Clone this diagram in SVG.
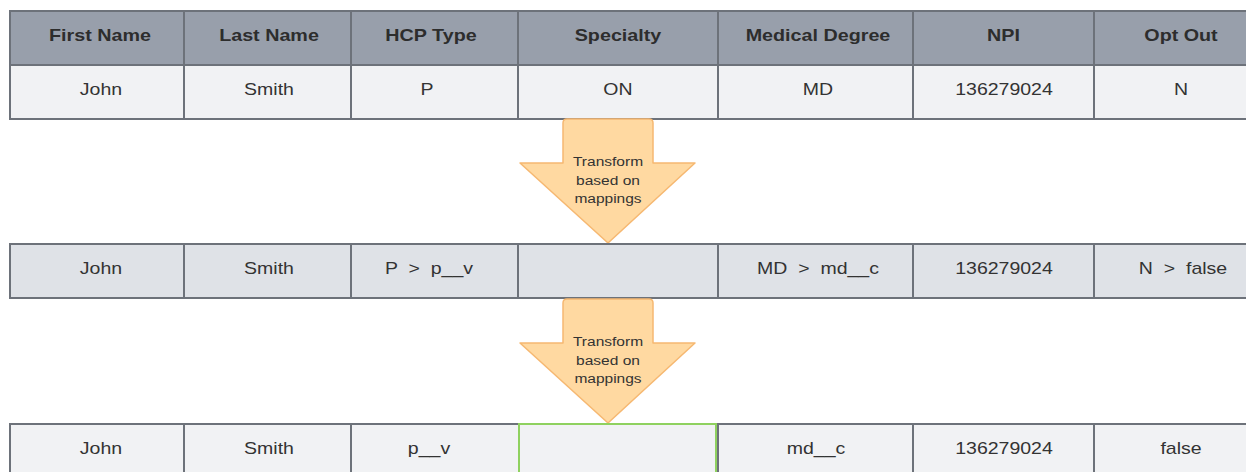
<svg xmlns="http://www.w3.org/2000/svg" width="1246" height="472" viewBox="0 0 1246 472">
<style>
.hd{fill:#989fab;stroke:#6d727a;stroke-width:2}
.r1{fill:#f1f2f4;stroke:#6d727a;stroke-width:2}
.r2{fill:#dfe2e7;stroke:#6d727a;stroke-width:2}
.ln{stroke:#6d727a;stroke-width:2}
.ht{font-family:"Liberation Sans",Arial,sans-serif;font-size:17px;font-weight:bold;fill:#2d2d2d;text-anchor:middle}
.bt{font-family:"Liberation Sans",Arial,sans-serif;font-size:16px;fill:#333;text-anchor:middle}
.ar{fill:#ffd9a1;stroke:#f6b871;stroke-width:1.5;stroke-linejoin:round}
.at{font-family:"Liberation Sans",Arial,sans-serif;font-size:13.5px;fill:#333;text-anchor:middle}
</style>
<g id="table1">
<rect class="hd" x="10" y="11" width="1262" height="54"/>
<rect class="r1" x="10" y="65" width="1262" height="54"/>
<g class="ln">
<line x1="184" y1="11" x2="184" y2="119"/><line x1="351" y1="11" x2="351" y2="119"/><line x1="518" y1="11" x2="518" y2="119"/><line x1="718" y1="11" x2="718" y2="119"/><line x1="913" y1="11" x2="913" y2="119"/><line x1="1094" y1="11" x2="1094" y2="119"/>
</g>
<text class="ht" transform="translate(100,41) scale(1.16,1)">First Name</text>
<text class="ht" transform="translate(269,41) scale(1.16,1)">Last Name</text>
<text class="ht" transform="translate(431,41) scale(1.16,1)">HCP Type</text>
<text class="ht" transform="translate(618,41) scale(1.16,1)">Specialty</text>
<text class="ht" transform="translate(818,41) scale(1.16,1)">Medical Degree</text>
<text class="ht" transform="translate(1003.5,41) scale(1.16,1)">NPI</text>
<text class="ht" transform="translate(1181,41) scale(1.16,1)">Opt Out</text>
<text class="bt" transform="translate(101,95) scale(1.22,1)">John</text>
<text class="bt" transform="translate(269,95) scale(1.22,1)">Smith</text>
<text class="bt" transform="translate(427,95) scale(1.22,1)">P</text>
<text class="bt" transform="translate(618,95) scale(1.22,1)">ON</text>
<text class="bt" transform="translate(818,95) scale(1.22,1)">MD</text>
<text class="bt" transform="translate(1004,95) scale(1.22,1)">136279024</text>
<text class="bt" transform="translate(1181,95) scale(1.22,1)">N</text>
</g>
<g id="arrow1">
<path class="ar" d="M567,119 L649,119 Q653,119 653,123 L653,163 L695,163 L608,243 L520,163 L563,163 L563,123 Q563,119 567,119 Z"/>
<text class="at" transform="translate(608,166) scale(1.15,1)">Transform</text>
<text class="at" transform="translate(608,185) scale(1.15,1)">based on</text>
<text class="at" transform="translate(608,203) scale(1.15,1)">mappings</text>
</g>
<g id="table2">
<rect class="r2" x="10" y="244" width="1262" height="54"/>
<g class="ln">
<line x1="184" y1="244" x2="184" y2="298"/><line x1="351" y1="244" x2="351" y2="298"/><line x1="518" y1="244" x2="518" y2="298"/><line x1="718" y1="244" x2="718" y2="298"/><line x1="913" y1="244" x2="913" y2="298"/><line x1="1094" y1="244" x2="1094" y2="298"/>
</g>
<text class="bt" transform="translate(101,274) scale(1.22,1)">John</text>
<text class="bt" transform="translate(269,274) scale(1.22,1)">Smith</text>
<text class="bt" transform="translate(429,274) scale(1.22,1)" xml:space="preserve">P  &gt;  p__v</text>
<text class="bt" transform="translate(818,274) scale(1.22,1)" xml:space="preserve">MD  &gt;  md__c</text>
<text class="bt" transform="translate(1004,274) scale(1.22,1)">136279024</text>
<text class="bt" transform="translate(1183,274) scale(1.22,1)" xml:space="preserve">N  &gt;  false</text>
</g>
<g id="arrow2">
<path class="ar" d="M567,299 L649,299 Q653,299 653,303 L653,343 L695,343 L608,423 L520,343 L563,343 L563,303 Q563,299 567,299 Z"/>
<text class="at" transform="translate(608,346) scale(1.15,1)">Transform</text>
<text class="at" transform="translate(608,365) scale(1.15,1)">based on</text>
<text class="at" transform="translate(608,383) scale(1.15,1)">mappings</text>
</g>
<g id="table3">
<rect class="r1" x="10" y="424" width="1262" height="60"/>
<g class="ln">
<line x1="184" y1="424" x2="184" y2="484"/><line x1="351" y1="424" x2="351" y2="484"/><line x1="913" y1="424" x2="913" y2="484"/><line x1="1094" y1="424" x2="1094" y2="484"/>
</g>
<rect x="519" y="424" width="197" height="60" fill="none" stroke="#8fd15f" stroke-width="2"/>
<line x1="718" y1="424" x2="718" y2="484" class="ln"/>
<text class="bt" transform="translate(101,454) scale(1.22,1)">John</text>
<text class="bt" transform="translate(269,454) scale(1.22,1)">Smith</text>
<text class="bt" transform="translate(429,454) scale(1.22,1)">p__v</text>
<text class="bt" transform="translate(816,454) scale(1.22,1)">md__c</text>
<text class="bt" transform="translate(1004,454) scale(1.22,1)">136279024</text>
<text class="bt" transform="translate(1181,454) scale(1.22,1)">false</text>
</g>
</svg>
